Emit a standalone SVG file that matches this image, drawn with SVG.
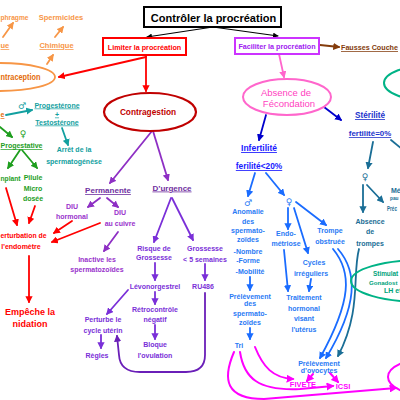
<svg xmlns="http://www.w3.org/2000/svg" width="400" height="400" viewBox="0 0 400 400">
<style>
text{font-family:"Liberation Sans",Arial,sans-serif;font-weight:bold;text-anchor:middle;font-size:7px}
.u{text-decoration:underline}
.st{text-anchor:start}.en{text-anchor:end}
.reg{font-weight:normal}
.sym{font-family:"DejaVu Sans",sans-serif;font-weight:normal;font-size:9px}
.c{fill:none;stroke-width:1.8;stroke-linecap:round}
.k{stroke:#000;stroke-width:1.1}
.or{stroke:#f79646}.re{stroke:#f00}.te{stroke:#12a0a0}.gr{stroke:#1e9e1e}.pu{stroke:#8e2fc4}.vi{stroke:#7a2fd8}.dp{stroke:#6a1fb8}
.pk{stroke:#ff66cc}.db{stroke:#0000cc}.lb{stroke:#1a6cff}.td{stroke:#1a6e96}.mg{stroke:#ff00ff;stroke-width:2}.br{stroke:#843c0c}
.tor{fill:#f79646}.tor2{fill:#e36c09}.tre{fill:#f00}.tdr{fill:#c00000}.tte{fill:#12a0a0}.tgr{fill:#1e9e1e}.tpu{fill:#7030a0}.tpl{fill:#9933cc}
.tvi{fill:#7a2fd8}.tpk{fill:#ff3fbf}.tdb{fill:#1a1aff}.tdb2{fill:#2233cc}.tlb{fill:#2a7af5}.ttd{fill:#1a6e96}.tmg{fill:#ff00ff}.tbr{fill:#843c0c}.tvf{fill:#a020f0}.tgt{fill:#00a27a}
</style>
<defs>
<marker id="mk" viewBox="0 0 10 10" refX="9" refY="5" markerWidth="5" markerHeight="5" orient="auto"><path d="M0,0L10,5L0,10z" fill="#000"/></marker>
<marker id="mor" viewBox="0 0 10 10" refX="8" refY="5" markerWidth="4" markerHeight="4" orient="auto"><path d="M0,0L10,5L0,10z" fill="#f79646"/></marker>
<marker id="mre" viewBox="0 0 10 10" refX="8" refY="5" markerWidth="4" markerHeight="4" orient="auto"><path d="M0,0L10,5L0,10z" fill="#f00"/></marker>
<marker id="mte" viewBox="0 0 10 10" refX="8" refY="5" markerWidth="4" markerHeight="4" orient="auto"><path d="M0,0L10,5L0,10z" fill="#12a0a0"/></marker>
<marker id="mgr" viewBox="0 0 10 10" refX="8" refY="5" markerWidth="4" markerHeight="4" orient="auto"><path d="M0,0L10,5L0,10z" fill="#1e9e1e"/></marker>
<marker id="mpu" viewBox="0 0 10 10" refX="8" refY="5" markerWidth="4" markerHeight="4" orient="auto"><path d="M0,0L10,5L0,10z" fill="#8e2fc4"/></marker>
<marker id="mvi" viewBox="0 0 10 10" refX="8" refY="5" markerWidth="4" markerHeight="4" orient="auto"><path d="M0,0L10,5L0,10z" fill="#7a2fd8"/></marker>
<marker id="mdp" viewBox="0 0 10 10" refX="8" refY="5" markerWidth="4" markerHeight="4" orient="auto"><path d="M0,0L10,5L0,10z" fill="#6a1fb8"/></marker>
<marker id="mpk" viewBox="0 0 10 10" refX="8" refY="5" markerWidth="4" markerHeight="4" orient="auto"><path d="M0,0L10,5L0,10z" fill="#ff66cc"/></marker>
<marker id="mdb" viewBox="0 0 10 10" refX="8" refY="5" markerWidth="4" markerHeight="4" orient="auto"><path d="M0,0L10,5L0,10z" fill="#0000cc"/></marker>
<marker id="mlb" viewBox="0 0 10 10" refX="8" refY="5" markerWidth="4" markerHeight="4" orient="auto"><path d="M0,0L10,5L0,10z" fill="#1a6cff"/></marker>
<marker id="mtd" viewBox="0 0 10 10" refX="8" refY="5" markerWidth="4" markerHeight="4" orient="auto"><path d="M0,0L10,5L0,10z" fill="#1a6e96"/></marker>
<marker id="mmg" viewBox="0 0 10 10" refX="8" refY="5" markerWidth="4" markerHeight="4" orient="auto"><path d="M0,0L10,5L0,10z" fill="#ff00ff"/></marker>
<marker id="mbr" viewBox="0 0 10 10" refX="8" refY="5" markerWidth="4" markerHeight="4" orient="auto"><path d="M0,0L10,5L0,10z" fill="#843c0c"/></marker>
</defs>
<rect width="400" height="400" fill="#fff"/>

<g id="connectors">
<path class="c k" d="M213,27L147,37" marker-end="url(#mk)"/>
<path class="c k" d="M213,27L278,36" marker-end="url(#mk)"/>
<path class="c br" d="M320,45L339,47" marker-end="url(#mbr)"/>
<path class="c re" d="M146,57L59,77" marker-end="url(#mre)"/>
<path class="c re" d="M146,55L146,91" marker-end="url(#mre)"/>
<path class="c or" d="M3,37L13,23" marker-end="url(#mor)"/>
<path class="c or" d="M55,37L63,27" marker-end="url(#mor)"/>
<path class="c or" d="M47,64L53,55" marker-end="url(#mor)"/>
<path class="c te" d="M6,115L32,110" marker-end="url(#mte)"/>
<path class="c te" d="M62,128L68,145" marker-end="url(#mte)"/>
<path class="c gr" d="M0,127L12,137" marker-end="url(#mgr)"/>
<path class="c gr" d="M20,150L8,168" marker-end="url(#mgr)"/>
<path class="c gr" d="M22,150L37,168" marker-end="url(#mgr)"/>
<path class="c re" d="M6,188L17,225" marker-end="url(#mre)"/>
<path class="c re" d="M35,206L29,223" marker-end="url(#mre)"/>
<path class="c re" d="M72,221L54,233" marker-end="url(#mre)"/>
<path class="c re" d="M100,223L52,242" marker-end="url(#mre)"/>
<path class="c re" d="M29,256L29,302" marker-end="url(#mre)"/>
<path class="c pu" d="M152,131L110,183" marker-end="url(#mpu)"/>
<path class="c pu" d="M153,131L168,180" marker-end="url(#mpu)"/>
<path class="c pu" d="M100,198L88,207" marker-end="url(#mpu)"/>
<path class="c pu" d="M107,198L118,207" marker-end="url(#mpu)"/>
<path class="c pu" d="M118,232L104,251" marker-end="url(#mpu)"/>
<path class="c vi" d="M171,198L154,242" marker-end="url(#mvi)"/>
<path class="c vi" d="M172,198L193,240" marker-end="url(#mvi)"/>
<path class="c vi" d="M155,263L155,280" marker-end="url(#mvi)"/>
<path class="c vi" d="M205,264L205,280" marker-end="url(#mvi)"/>
<path class="c vi" d="M128,290L107,314" marker-end="url(#mvi)"/>
<path class="c vi" d="M101,335L101,348" marker-end="url(#mvi)"/>
<path class="c vi" d="M155,292L155,304" marker-end="url(#mvi)"/>
<path class="c vi" d="M155,325L155,339" marker-end="url(#mvi)"/>
<path class="c dp" d="M205,293L205,355Q205,372 186,372L140,372Q120,372 119,355L117,336" marker-end="url(#mdp)"/>
<path class="c pk" d="M279,54L284,77" marker-end="url(#mpk)"/>
<path class="c db" d="M266,115L259,140" marker-end="url(#mdb)"/>
<path class="c db" d="M324,107L341,120" marker-end="url(#mdb)"/>
<path class="c lb" d="M255,173L248,196" marker-end="url(#mlb)"/>
<path class="c lb" d="M266,173L284,195" marker-end="url(#mlb)"/>
<path class="c lb" d="M250,277L250,290" marker-end="url(#mlb)"/>
<path class="c lb" d="M250,328L250,339" marker-end="url(#mlb)"/>
<path class="c lb" d="M288,208L288,229" marker-end="url(#mlb)"/>
<path class="c lb" d="M294,208L308,253" marker-end="url(#mlb)"/>
<path class="c lb" d="M296,202L326,225" marker-end="url(#mlb)"/>
<path class="c lb" d="M284,250L288,291" marker-end="url(#mlb)"/>
<path class="c lb" d="M311,279L309,291" marker-end="url(#mlb)"/>
<path class="c lb" d="M333,249C352,272 352,300 320,358" marker-end="url(#mlb)"/>
<path class="c lb" d="M338,249C358,272 358,305 326,358" marker-end="url(#mlb)"/>
<path class="c td" d="M373,142L368,168" marker-end="url(#mtd)"/>
<path class="c td" d="M363,185L363,212" marker-end="url(#mtd)"/>
<path class="c td" d="M367,185L383,202" marker-end="url(#mtd)"/>
<path class="c td" d="M391,140L402,149"/>
<path class="c td" d="M359,249C352,275 362,310 338,356" marker-end="url(#mtd)"/>
<path class="c mg" d="M255,347C263,367 273,378 293,379" marker-end="url(#mmg)"/>
<path class="c mg" d="M240,352C244,378 258,391 300,389L333,386" marker-end="url(#mmg)"/>
<path class="c mg" d="M234,352C222,380 226,399 264,399L396,388" marker-end="url(#mmg)"/>
<path class="c mg" d="M313,374L307,381" marker-end="url(#mmg)"/>
<path class="c mg" d="M330,373L338,382" marker-end="url(#mmg)"/>
</g>

<g id="title"><rect x="144" y="7" width="137" height="20" fill="#fff" stroke="#000" stroke-width="2"/><text x="213.5" y="22" style="font-size:11px">Contrôler la procréation</text></g>
<g id="limiter"><rect x="103" y="38" width="83" height="17" fill="#fff" stroke="#f00" stroke-width="2"/><text x="144.5" y="49.5" class="tre" style="font-size:7.2px">Limiter la procréation</text></g>
<g id="faciliter"><rect x="235" y="38" width="84" height="16" fill="#fff" stroke="#cc33ff" stroke-width="2"/><text x="277" y="49" class="tvf" style="font-size:7.2px">Faciliter la procréation</text></g>
<g id="fausses"><text x="341" y="50" class="st u tbr" style="font-size:7.6px" textLength="57" lengthAdjust="spacingAndGlyphs">Fausses Couche</text></g>

<g id="contraception"><ellipse cx="0" cy="77" rx="55" ry="14" fill="none" stroke="#f79646" stroke-width="1.8"/><text x="0.5" y="80" class="st tor2" style="font-size:8.5px" textLength="40" lengthAdjust="spacingAndGlyphs">ntraception</text></g>
<g id="diaphragme"><text x="0.5" y="20" class="st tor" style="font-size:7.5px" textLength="28" lengthAdjust="spacingAndGlyphs">phragme</text></g>
<g id="spermicides"><text x="61" y="20" class="tor" style="font-size:7.5px">Spermicides</text></g>
<g id="mecanique"><text x="0.5" y="48" class="st u tor" style="font-size:7.5px">ue</text></g>
<g id="chimique"><text x="56.5" y="48" class="u tor" style="font-size:7.5px">Chimique</text></g>
<g id="hormonale"><text x="0.5" y="117" class="st u tor2">e</text></g>
<g id="male1"><text x="22" y="109" class="sym" style="fill:#12a0a0">♂</text></g>
<g id="progesterone"><text x="57" y="107.5" class="u tte">Progestérone</text><text x="57" y="116.5" class="u tte">+</text><text x="57" y="124.5" class="u tte">Testostérone</text></g>
<g id="arret"><text x="74" y="151.5" class="tte">Arrêt de la</text><text x="74" y="163.5" class="tte">spermatogénèse</text></g>
<g id="female1"><text x="23" y="137" class="sym" style="fill:#1e9e1e">♀</text></g>
<g id="progestative"><text x="0.5" y="148" class="st u tgr">Progestative</text></g>
<g id="implant"><text x="0.5" y="180.5" class="st tgr" textLength="20" lengthAdjust="spacingAndGlyphs">nplant</text></g>
<g id="pilule"><text x="33" y="179.5" class="tgr">Pilule</text><text x="33" y="190.5" class="tgr">Micro</text><text x="33" y="200.5" class="tgr">dosée</text></g>
<g id="perturbation"><text x="0.5" y="237.5" class="st tre" textLength="46" lengthAdjust="spacingAndGlyphs">erturbation de</text><text x="21" y="248.5" class="tre">l'endomètre</text></g>
<g id="empeche"><text x="30" y="315" class="tre" style="font-size:9px">Empêche la</text><text x="30" y="327" class="tre" style="font-size:9px">nidation</text></g>

<g id="contragestion"><ellipse cx="150" cy="112" rx="46" ry="19" fill="none" stroke="#c00000" stroke-width="2.2"/><text x="148" y="115" class="tdr" style="font-size:8.3px">Contragestion</text></g>
<g id="permanente"><text x="108" y="193" class="u tpu" style="font-size:8px">Permanente</text></g>
<g id="durgence"><text x="172" y="190.5" class="u tpu" style="font-size:8px">D’urgence</text></g>
<g id="diuh"><text x="72" y="209" class="tpl">DIU</text><text x="72" y="219" class="tpl">hormonal</text></g>
<g id="diuc"><text x="120" y="215" class="tpl">DIU</text><text x="120" y="225.5" class="tpl">au cuivre</text></g>
<g id="inactive"><text x="97" y="261.5" class="tpl">Inactive les</text><text x="97" y="271.5" class="tpl">spermatozoïdes</text></g>
<g id="risque"><text x="154" y="251" class="tvi">Risque de</text><text x="154" y="259.5" class="tvi">Grossesse</text></g>
<g id="grossesse"><text x="205" y="251" class="tvi">Grossesse</text><text x="205" y="262" class="tvi">&lt; 5 semaines</text></g>
<g id="levonorgestrel"><text x="155" y="288.5" class="tvi">Lévonorgestrel</text></g>
<g id="ru486"><text x="203" y="288.5" class="tvi">RU486</text></g>
<g id="perturbe"><text x="103" y="321.5" class="tvi">Perturbe le</text><text x="103" y="332.5" class="tvi">cycle utérin</text></g>
<g id="regles"><text x="97" y="357.5" class="tvi">Règles</text></g>
<g id="retro"><text x="155" y="311.5" class="tvi">Rétrocontrôle</text><text x="155" y="321.5" class="tvi">négatif</text></g>
<g id="bloque"><text x="155" y="346.5" class="tvi">Bloque</text><text x="155" y="357.5" class="tvi">l'ovulation</text></g>

<g id="absence-fecondation"><ellipse cx="287" cy="97" rx="44" ry="18" fill="none" stroke="#ff66cc" stroke-width="2"/><text x="286" y="96" class="tpk reg" style="font-size:9.5px">Absence de</text><text x="289" y="106.5" class="tpk reg" style="font-size:9.5px">Fécondation</text></g>
<g id="infertilite"><text x="259" y="151" class="u tdb" style="font-size:8.5px">Infertilité</text><text x="259" y="169" class="u tdb" style="font-size:8.3px">ferilité&lt;20%</text></g>
<g id="sterilite"><text x="370" y="118" class="u tdb2" style="font-size:8.2px">Stérilité</text><text x="370" y="136" class="u tdb2" style="font-size:7.9px">fertilité=0%</text></g>
<g id="male2"><text x="248" y="206" class="sym" style="fill:#2a7af5">♂</text></g>
<g id="anomalie"><text x="248" y="213.5" class="tlb">Anomalie</text><text x="248" y="223.5" class="tlb">des</text><text x="248" y="233" class="tlb">spermato-</text><text x="248" y="241.5" class="tlb">zoïdes</text><text x="248" y="253.5" class="tlb">-Nombre</text><text x="248" y="262.5" class="tlb">-Forme</text><text x="250" y="273.5" class="tlb">-Mobilité</text></g>
<g id="prelev-sperm"><text x="250" y="298.5" class="tlb">Prélèvement</text><text x="250" y="305.5" class="tlb">des</text><text x="250" y="316" class="tlb">spermato-</text><text x="250" y="324.5" class="tlb">zoïdes</text></g>
<g id="tri"><text x="239" y="347.5" class="tlb">Tri</text></g>
<g id="female2"><text x="289" y="205" class="sym" style="fill:#2a7af5">♀</text></g>
<g id="endo"><text x="286" y="235.5" class="tlb">Endo-</text><text x="286" y="245.5" class="tlb">métriose</text></g>
<g id="trompe"><text x="330" y="232.5" class="tlb">Trompe</text><text x="330" y="243.5" class="tlb">obstruée</text></g>
<g id="cycles"><text x="314" y="264.5" class="tlb">Cycles</text><text x="311" y="275.5" class="tlb">irréguliers</text></g>
<g id="traitement"><text x="304" y="299.5" class="tlb">Traitement</text><text x="304" y="310.5" class="tlb">hormonal</text><text x="304" y="321" class="tlb">visant</text><text x="304" y="331.5" class="tlb">l'utérus</text></g>
<g id="prelev-ovo"><text x="319" y="365.5" class="tlb">Prélèvement</text><text x="319" y="372.5" class="tlb">d’ovocytes</text></g>
<g id="fivete"><text x="303" y="386.5" class="tmg" style="font-size:7.5px">FIVETE</text></g>
<g id="icsi"><text x="343" y="389" class="tmg" style="font-size:7.5px">ICSI</text></g>
<g id="female3"><text x="365" y="180" class="sym" style="fill:#1a6e96">♀</text></g>
<g id="absence-trompes"><text x="370" y="223.5" class="ttd">Absence</text><text x="370" y="233.5" class="ttd">de</text><text x="370" y="246" class="ttd">trompes</text></g>
<g id="menopause"><text x="391" y="193" class="st ttd">Mé</text><text x="390" y="200" class="st ttd" style="font-size:6px" textLength="8.5" lengthAdjust="spacingAndGlyphs">pau</text><text x="387" y="211" class="st ttd" style="font-size:6.5px" textLength="10" lengthAdjust="spacingAndGlyphs">Préc</text></g>
<g id="stimulation"><ellipse cx="422" cy="281" rx="71" ry="21" fill="none" stroke="#00b386" stroke-width="2"/><text x="373" y="276" class="st tgt" style="font-size:6.4px">Stimulat</text><text x="369" y="284.5" class="st tgt" style="font-size:6.1px">Gonadost</text><text x="384" y="293" class="st tgt">LH et</text></g>
<g id="node-tr"><ellipse cx="432" cy="83" rx="48" ry="18" fill="none" stroke="#00b386" stroke-width="2"/></g>
<g id="node-br"><ellipse cx="432" cy="377" rx="44" ry="19" fill="none" stroke="#ff00ff" stroke-width="2"/></g>
</svg>
